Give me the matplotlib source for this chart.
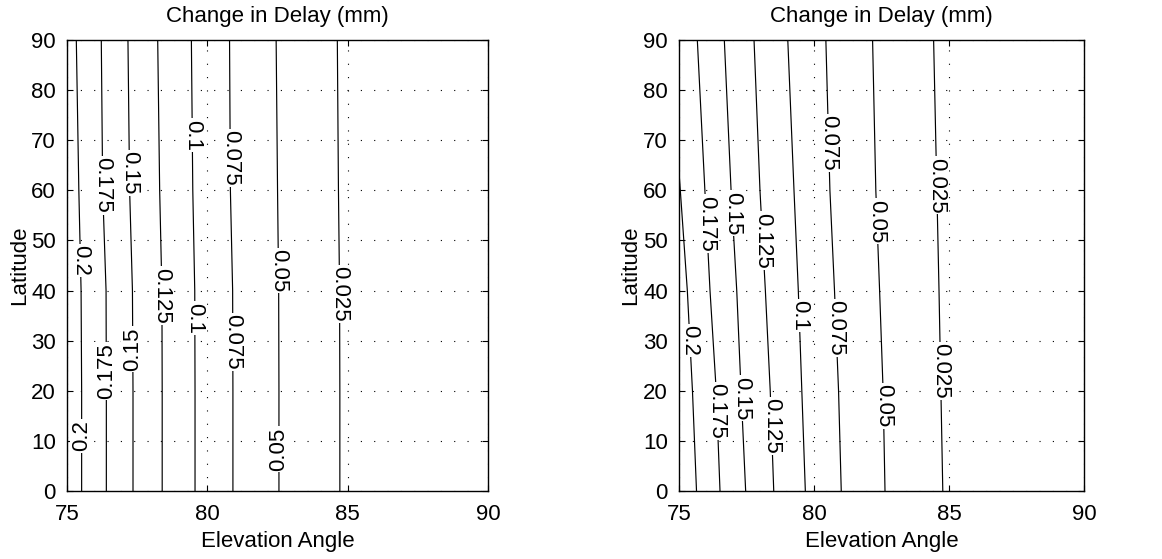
import numpy as np
import matplotlib
matplotlib.use("Agg")
import matplotlib.pyplot as plt

plt.rcParams['font.family'] = ['Liberation Sans', 'DejaVu Sans']

# contour levels (mm)
levels = [0.2, 0.175, 0.15, 0.125, 0.1, 0.075, 0.05, 0.025]
level_txt = ['0.2', '0.175', '0.15', '0.125', '0.1', '0.075', '0.05', '0.025']

# latitude nodes where the contour positions were read
lat = [0, 20, 40, 60, 90]

# elevation angle of each contour at the latitude nodes - left panel
left_elev = [
    [75.52, 75.52, 75.50, 75.42, 75.33],
    [76.40, 76.40, 76.39, 76.27, 76.22],
    [77.35, 77.35, 77.33, 77.23, 77.17],
    [78.39, 78.39, 78.38, 78.30, 78.23],
    [79.56, 79.56, 79.55, 79.48, 79.43],
    [80.91, 80.91, 80.90, 80.82, 80.79],
    [82.55, 82.55, 82.54, 82.50, 82.45],
    [84.72, 84.72, 84.71, 84.67, 84.63],
]

# right panel
right_elev = [
    [75.65, 75.50, 75.31, 75.05, 74.65],
    [76.52, 76.38, 76.15, 75.96, 75.68],
    [77.47, 77.30, 77.14, 76.93, 76.68],
    [78.51, 78.38, 78.20, 78.00, 77.78],
    [79.68, 79.55, 79.42, 79.26, 79.03],
    [81.01, 80.91, 80.76, 80.59, 80.44],
    [82.63, 82.56, 82.43, 82.29, 82.17],
    [84.77, 84.70, 84.63, 84.55, 84.43],
]

# where the inline labels sit: (level index, latitude, rotation)
left_labels = [(0, 46, -90), (0, 11, 90), (1, 61, -90), (1, 24, 90),
               (2, 63.5, -90), (2, 28.3, 90), (3, 39, -90), (4, 71, -90),
               (4, 34.5, -90), (5, 66.5, -90), (5, 29.8, -90), (6, 44, -90),
               (6, 8.3, 90), (7, 39.3, -90)]
right_labels = [(0, 30, -90), (1, 53.4, -90), (1, 16, -90), (2, 55.4, -90),
                (2, 18.5, -90), (3, 50, -90), (3, 13, -90), (4, 35, -90),
                (5, 69.4, -90), (5, 32.5, -90), (6, 53.8, -90), (6, 17, -90),
                (7, 61, -90), (7, 24, -90)]

FS = 16


def draw_panel(ax, elev, labels):
    for e in elev:
        ax.plot(e, lat, color='k', lw=0.85, zorder=2)
    for i, la, rot in labels:
        x = np.interp(la, lat, elev[i])
        ax.text(x, la, level_txt[i], rotation=rot, ha='center', va='center',
                fontsize=FS, zorder=2.4, clip_on=True,
                bbox=dict(facecolor='white', edgecolor='none', pad=1.0))
    ax.set_xlim(75, 90)
    ax.set_ylim(0, 90)
    ax.set_xticks([75, 80, 85, 90])
    ax.set_yticks(np.arange(0, 91, 10))
    ax.grid(True, color='k', lw=0.8, linestyle=(0, (1, 11)))
    ax.tick_params(direction='in', top=True, right=True, length=4,
                   labelsize=FS)
    ax.tick_params(axis='x', pad=9)
    ax.tick_params(axis='y', pad=8)
    for s in ax.spines.values():
        s.set_linewidth(1.0)
        s.set_zorder(3)
    ax.set_title('Change in Delay (mm)', fontsize=FS, pad=13)
    ax.set_xlabel('Elevation Angle', fontsize=FS, labelpad=5)
    ax.set_ylabel('Latitude', fontsize=FS, labelpad=1)


fig = plt.figure(figsize=(11.62, 5.59), dpi=100)
ax1 = fig.add_axes([0.0577, 0.1216, 0.3623, 0.8068])
ax2 = fig.add_axes([0.5843, 0.1216, 0.3486, 0.8068])
draw_panel(ax1, left_elev, left_labels)
draw_panel(ax2, right_elev, right_labels)

fig.savefig('out.png', dpi=100)
